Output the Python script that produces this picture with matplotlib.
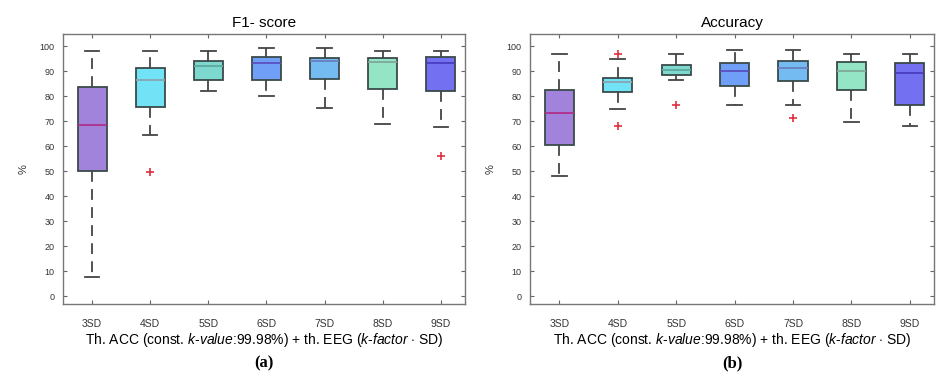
import matplotlib
matplotlib.use("Agg")
import matplotlib.pyplot as plt

plt.rcParams["mathtext.fontset"] = "custom"
plt.rcParams["mathtext.rm"] = "Liberation Sans"
plt.rcParams["mathtext.it"] = "Liberation Sans:italic"

categories = ["3SD", "4SD", "5SD", "6SD", "7SD", "8SD", "9SD"]

# F1-score box statistics
f1_whislo = [7.9, 64.6, 82.0, 80.0, 75.4, 68.9, 67.8]
f1_q1     = [50.1, 75.7, 86.5, 86.5, 87.0, 82.8, 82.2]
f1_med    = [68.6, 86.5, 92.1, 93.3, 94.1, 93.9, 93.4]
f1_q3     = [83.6, 91.4, 94.0, 95.6, 95.2, 95.5, 95.6]
f1_whishi = [98.1, 98.0, 98.0, 99.2, 99.2, 98.0, 98.0]
f1_fliers = [[], [49.7], [], [], [], [], [56.3]]

# Accuracy box statistics
acc_whislo = [48.1, 75.0, 86.6, 76.7, 76.7, 69.9, 68.2]
acc_q1     = [60.7, 81.7, 88.4, 84.2, 86.0, 82.5, 76.6]
acc_med    = [73.4, 85.9, 90.4, 90.1, 91.2, 90.1, 89.2]
acc_q3     = [82.4, 87.4, 92.5, 93.4, 94.1, 93.6, 93.4]
acc_whishi = [96.9, 95.0, 96.9, 98.4, 98.4, 96.9, 96.9]
acc_fliers = [[], [97.0, 68.2], [76.7], [], [71.5], [], []]

box_colors = ["#a283dc", "#72e3f7", "#7dd9cf", "#6f9ff6", "#74bbf2", "#94e4c6", "#7370f2"]
median_colors = ["#b0308a", "#8aa6b0", "#5fa9a0", "#5c4fc0", "#6a7fc0", "#7fa898", "#4a3cc0"]

titles = ["F1- score", "Accuracy"]
panel_labels = ["(a)", "(b)"]
yticks = list(range(0, 101, 10))

fig = plt.figure(figsize=(9.4, 3.92), dpi=100)
axes = [fig.add_axes([0.067, 0.2245, 0.428, 0.689]),
        fig.add_axes([0.564, 0.2245, 0.430, 0.689])]

datasets = [
    (f1_whislo, f1_q1, f1_med, f1_q3, f1_whishi, f1_fliers),
    (acc_whislo, acc_q1, acc_med, acc_q3, acc_whishi, acc_fliers),
]

xlabel_txt = r"Th. ACC (const. $\it{k\text{-}value}$:99.98%) + th. EEG ($\it{k\text{-}factor}$ $\cdot$ SD)"

for ax, data, title, plab in zip(axes, datasets, titles, panel_labels):
    wl, q1, med, q3, wh, fl = data
    stats = []
    for i in range(len(categories)):
        stats.append(dict(whislo=wl[i], q1=q1[i], med=med[i], q3=q3[i],
                          whishi=wh[i], fliers=fl[i], label=categories[i]))
    bp = ax.bxp(stats, positions=range(1, 8), widths=0.5, patch_artist=True,
                showfliers=True,
                boxprops=dict(edgecolor="#3a4a4a", linewidth=1.3),
                whiskerprops=dict(color="#444444", linewidth=1.3, linestyle=(0, (6, 4))),
                capprops=dict(color="#444444", linewidth=1.3),
                flierprops=dict(marker="+", markeredgecolor="#e03040", markersize=6,
                                markeredgewidth=1.2, linestyle="none"),
                medianprops=dict(linewidth=1.3))
    for patch, c in zip(bp["boxes"], box_colors):
        patch.set_facecolor(c)
    for m, c in zip(bp["medians"], median_colors):
        m.set_color(c)
    for cap in bp["caps"]:
        xd = cap.get_xdata()
        mid = (xd[0] + xd[1]) / 2
        cap.set_xdata([mid - 0.125, mid + 0.125])

    ax.set_xlim(0.5, 7.42)
    ax.set_ylim(-3, 105)
    ax.set_yticks(yticks)
    ax.set_yticklabels([str(v) for v in yticks], fontsize=6.5, color="#333333",
                       family="Liberation Sans")
    ax.set_xticks(range(1, 8))
    ax.set_xticklabels(categories, fontsize=7.5, color="#333333", family="Liberation Sans")
    ax.tick_params(axis="both", direction="in", length=3, width=0.8, color="#666666",
                   top=True, right=True, pad=6)
    ax.tick_params(axis="x", pad=11)
    for s in ax.spines.values():
        s.set_color("#777777")
        s.set_linewidth(1.0)
    ax.set_title(title, fontsize=11, family="Liberation Sans", pad=5)
    ax.set_ylabel("%", fontsize=8, family="Liberation Sans", color="#333333", labelpad=8)
    ax.set_xlabel(xlabel_txt, fontsize=10, family="Liberation Sans", labelpad=1)
    ax.text(0.5, -0.19, plab, transform=ax.transAxes, ha="center", va="top",
            fontsize=12, family="Liberation Serif", fontweight="bold")

fig.savefig("out.png", dpi=100)
